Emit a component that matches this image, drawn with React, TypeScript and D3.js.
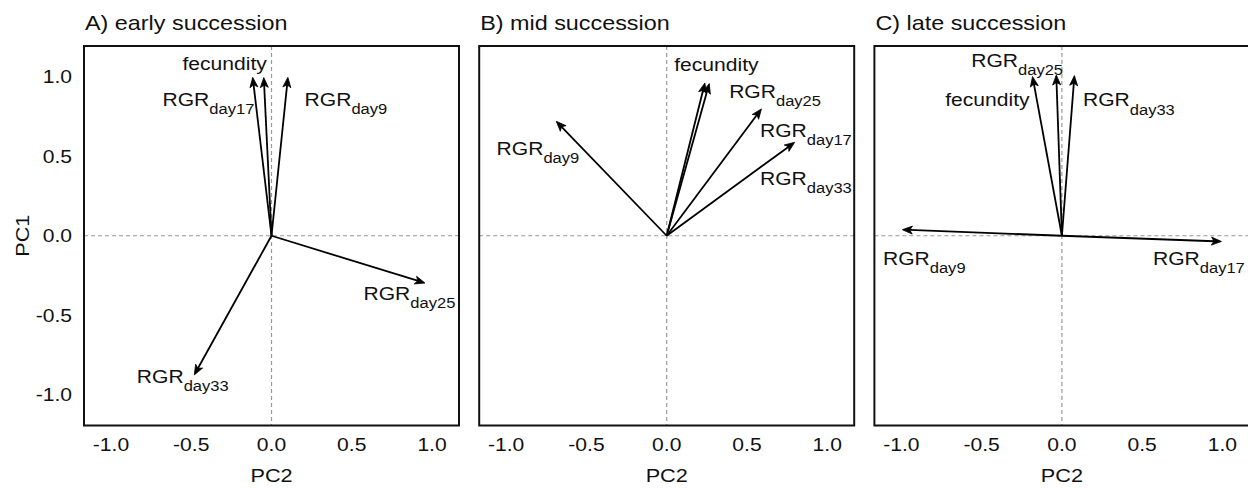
import React from "react";
import * as d3 from "d3";

const panelTitles = ["A) early succession", "B) mid succession", "C) late succession"];
const variables = ["fecundity", "RGR_day9", "RGR_day17", "RGR_day25", "RGR_day33"];

// Loadings (PC2 = horizontal, PC1 = vertical), order as `variables`
const earlyPC2 = [-0.048, 0.102, -0.117, 0.956, -0.481];
const earlyPC1 = [0.994, 0.995, 0.995, -0.297, -0.874];
const midPC2 = [0.238, -0.688, 0.797, 0.59, 0.265];
const midPC1 = [0.96, 0.719, 0.587, 0.797, 0.956];
const latePC2 = [-0.183, -0.994, 0.994, -0.035, 0.078];
const latePC1 = [1.0, 0.038, -0.036, 1.01, 1.006];

// Label anchor positions in data units (start of text, baseline)
const earlyLabelX = [-0.555, 0.206, -0.679, 0.573, -0.839];
const earlyLabelY = [1.042, 0.816, 0.816, -0.402, -0.923];
const midLabelX = [0.047, -1.06, 0.581, 0.389, 0.581];
const midLabelY = [1.038, 0.508, 0.62, 0.864, 0.32];
const lateLabelX = [-0.727, -1.115, 0.567, -0.565, 0.131];
const lateLabelY = [0.812, -0.182, -0.182, 1.063, 0.812];

const tickValues = [-1.0, -0.5, 0.0, 0.5, 1.0];
const xAxisLabel = "PC2";
const yAxisLabel = "PC1";

const panels = [
  { title: panelTitles[0], px: earlyPC2, py: earlyPC1, lx: earlyLabelX, ly: earlyLabelY },
  { title: panelTitles[1], px: midPC2, py: midPC1, lx: midLabelX, ly: midLabelY },
  { title: panelTitles[2], px: latePC2, py: latePC1, lx: lateLabelX, ly: lateLabelY },
];

const FONT = "'Liberation Sans', Arial, Helvetica, sans-serif";
const SX = 1.14;

const W = 1248;
const H = 489;
const panelLeft0 = 84;
const panelStep = 395.2;
const panelW = 375;
const boxTop = 46;
const boxBottom = 425.5;
const xLim = 1.168;
const yLim = 1.192;

function T({ x, y, size, anchor = "start", rotate = 0, children }: any) {
  return (
    <text
      transform={`translate(${x},${y}) rotate(${rotate}) scale(${SX},1)`}
      fontFamily={FONT}
      fontSize={size}
      textAnchor={anchor}
      fill="#111"
    >
      {children}
    </text>
  );
}

function Label({ name, x, y }: any) {
  if (name.startsWith("RGR_")) {
    const sub = name.slice(4);
    return (
      <T x={x} y={y} size={18.5}>
        RGR
        <tspan fontSize={14.5} dy={8}>
          {sub}
        </tspan>
      </T>
    );
  }
  return (
    <T x={x} y={y} size={18.5}>
      {name}
    </T>
  );
}

function Arrow({ x0, y0, x1, y1 }: any) {
  const dx = x1 - x0;
  const dy = y1 - y0;
  const len = Math.sqrt(dx * dx + dy * dy);
  const ux = dx / len;
  const uy = dy / len;
  const hl = 10;
  const hw = 4;
  const notch = 2.5;
  const bx = x1 - ux * hl;
  const by = y1 - uy * hl;
  const nx = -uy;
  const ny = ux;
  const head = [
    [x1, y1],
    [bx + nx * hw, by + ny * hw],
    [x1 - ux * (hl - notch), y1 - uy * (hl - notch)],
    [bx - nx * hw, by - ny * hw],
  ];
  const lineEnd = [x1 - ux * (hl - notch - 0.5), y1 - uy * (hl - notch - 0.5)];
  return (
    <g>
      <line x1={x0} y1={y0} x2={lineEnd[0]} y2={lineEnd[1]} stroke="#000" strokeWidth={1.8} />
      <path d={d3.line()(head as any) + "Z"} fill="#000" stroke="#000" strokeWidth={0.8} strokeLinejoin="miter" />
    </g>
  );
}

export default function App() {
  const y = d3.scaleLinear().domain([-yLim, yLim]).range([boxBottom, boxTop]);
  return (
    <svg
      width={W}
      height={H}
      style={{ position: "absolute", left: 0, top: 0, background: "#fff" }}
    >
      <rect x={0} y={0} width={W} height={H} fill="#fff" />
      {panels.map((p, i) => {
        const left = panelLeft0 + i * panelStep;
        const x = d3.scaleLinear().domain([-xLim, xLim]).range([left, left + panelW]);
        return (
          <g key={i}>
            <T x={left + 1} y={30} size={20.5}>
              {p.title}
            </T>
            {/* dashed reference lines */}
            <line x1={x(0)} x2={x(0)} y1={boxTop} y2={boxBottom} stroke="#999" strokeWidth={1.2} strokeDasharray="4,3" />
            <line x1={left} x2={left + panelW} y1={y(0)} y2={y(0)} stroke="#999" strokeWidth={1.2} strokeDasharray="4,3" />
            {variables.map((v, j) => (
              <Arrow key={v} x0={x(0)} y0={y(0)} x1={x(p.px[j])} y1={y(p.py[j])} />
            ))}
            {variables.map((v, j) => (
              <Label key={v} name={v} x={x(p.lx[j])} y={y(p.ly[j])} />
            ))}
            <rect
              x={left}
              y={boxTop}
              width={panelW}
              height={boxBottom - boxTop}
              fill="none"
              stroke="#111"
              strokeWidth={2}
            />
            {tickValues.map((t) => (
              <T key={t} x={x(t)} y={451} size={18.5} anchor="middle">
                {t.toFixed(1)}
              </T>
            ))}
            <T x={x(0)} y={482} size={19} anchor="middle">
              {xAxisLabel}
            </T>
            {i === 0 &&
              tickValues.map((t) => (
                <T key={"y" + t} x={72} y={y(t) + 6.5} size={18.5} anchor="end">
                  {t.toFixed(1)}
                </T>
              ))}
            {i === 0 && (
              <T x={29} y={y(0)} size={19} anchor="middle" rotate={-90}>
                {yAxisLabel}
              </T>
            )}
          </g>
        );
      })}
    </svg>
  );
}
